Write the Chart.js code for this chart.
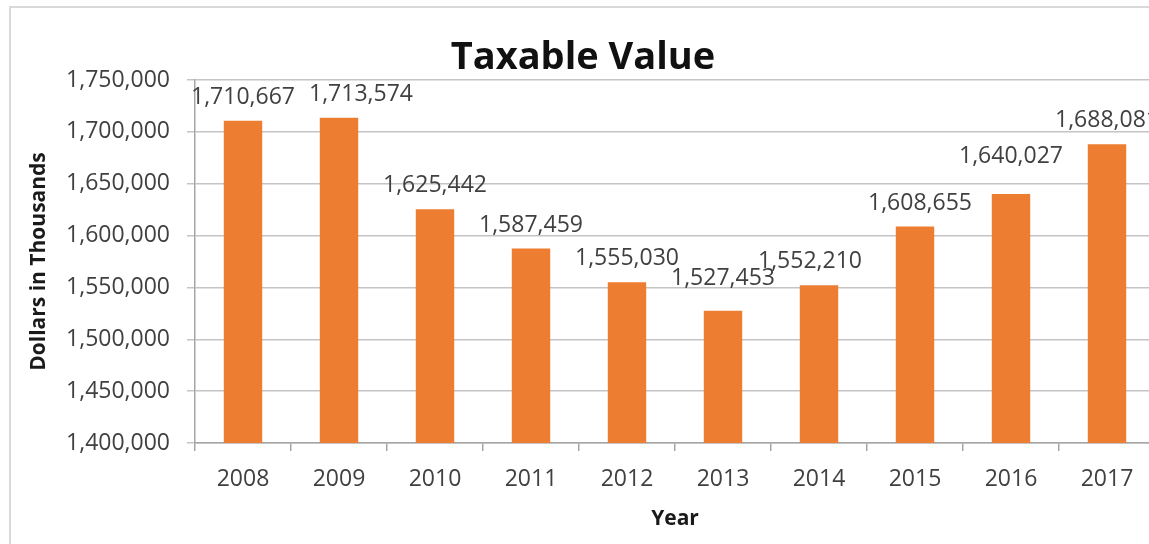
<!doctype html>
<html lang="en">
<head>
    <meta charset="UTF-8">
    <title>Taxable Value</title>
    <script src="https://cdn.jsdelivr.net/npm/chart.js"></script>
    <style>
        html, body {
            margin: 0;
            width: 1149px;
            height: 544px;
            overflow: hidden;
            background: #fff;
        }
        .frame {
            position: absolute;
            left: 9px;
            top: 6px;
            width: 1200px;
            height: 600px;
            border-left: 2px solid #d9d9d9;
            border-top: 2px solid #d9d9d9;
        }
        #taxChart {
            position: absolute;
            left: 11px;
            top: 8px;
        }
    </style>
</head>
<body>
    <div class="frame"></div>
    <canvas id="taxChart" width="1144" height="536"></canvas>

    <script>
        // values (dollars in thousands)
        const years = ['2008', '2009', '2010', '2011', '2012', '2013', '2014', '2015', '2016', '2017'];
        const taxableValue = [1710667, 1713574, 1625442, 1587459, 1555030, 1527453, 1552210, 1608655, 1640027, 1688081];
        const yTicks = [1400000, 1450000, 1500000, 1550000, 1600000, 1650000, 1700000, 1750000];

        const fmt = v => v.toLocaleString('en-US');

        // value labels above the bars, a few nudged like in the original
        const barLabels = {
            id: 'barLabels',
            afterDatasetsDraw(chart, args, opts) {
                const ctx = chart.ctx;
                const meta = chart.getDatasetMeta(0);
                ctx.save();
                ctx.font = '23px "Open Sans"';
                ctx.fillStyle = '#404040';
                ctx.textAlign = 'center';
                ctx.textBaseline = 'alphabetic';
                meta.data.forEach((bar, i) => {
                    const n = opts.nudge[chart.data.labels[i]] || [0, 0];
                    ctx.fillText(fmt(chart.data.datasets[0].data[i]), bar.x + n[0], bar.y - 17 - n[1]);
                });
                ctx.restore();
            }
        };

        const ctx = document.getElementById('taxChart').getContext('2d');
        const chart = new Chart(ctx, {
            type: 'bar',
            data: {
                labels: years,
                datasets: [{
                    label: 'Taxable Value',
                    data: taxableValue,
                    backgroundColor: '#ed7d31',
                    categoryPercentage: 1,
                    barPercentage: 0.4
                }]
            },
            options: {
                responsive: false,
                animation: false,
                layout: { padding: { left: 0, right: 0, top: 0, bottom: 1 } },
                scales: {
                    x: {
                        grid: {
                            drawOnChartArea: false,
                            drawTicks: true,
                            tickLength: 8,
                            color: '#a6a6a6',
                            lineWidth: 1.5
                        },
                        border: { color: '#a6a6a6', width: 1.5 },
                        ticks: {
                            padding: 15,
                            color: '#404040',
                            font: { family: 'Open Sans', size: 23 }
                        },
                        title: {
                            display: true,
                            text: 'Year',
                            color: '#1a1a1a',
                            font: { family: 'Open Sans', size: 21, weight: 'bold' },
                            padding: { top: 0, bottom: 11 }
                        },
                        afterFit(scale) { scale.height = 100; }
                    },
                    y: {
                        min: yTicks[0],
                        max: yTicks[yTicks.length - 1],
                        afterBuildTicks(scale) {
                            scale.ticks = yTicks.map(v => ({ value: v }));
                        },
                        grid: {
                            color: '#c4c4c4',
                            lineWidth: 1.5,
                            tickLength: 8
                        },
                        border: { color: '#a6a6a6', width: 1.5 },
                        ticks: {
                            padding: 17,
                            color: '#404040',
                            font: { family: 'Open Sans', size: 23 },
                            callback: v => fmt(v)
                        },
                        title: {
                            display: true,
                            text: 'Dollars in Thousands',
                            color: '#1a1a1a',
                            font: { family: 'Open Sans', size: 21, weight: 'bold' },
                            padding: { top: 15, bottom: 0 }
                        },
                        afterFit(scale) { scale.width = 184; }
                    }
                },
                plugins: {
                    legend: { display: false },
                    tooltip: { enabled: false },
                    title: {
                        display: true,
                        text: 'Taxable Value',
                        color: '#111',
                        font: { family: 'Open Sans', size: 38, weight: 'bold' },
                        padding: { top: 27.4, bottom: -1 }
                    },
                    barLabels: {
                        nudge: { '2009': [22, 0], '2013': [0, 9], '2014': [-9, 0], '2015': [5, 0], '2016': [0, 14] }
                    }
                }
            },
            plugins: [barLabels]
        });
    </script>
</body>
</html>
